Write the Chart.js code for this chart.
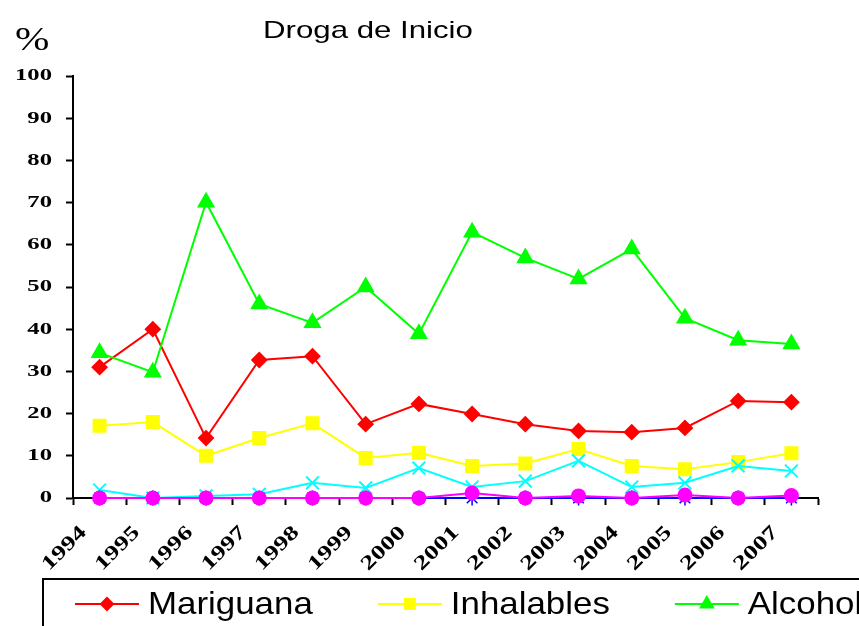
<!DOCTYPE html>
<html>
<head>
<meta charset="utf-8">
<script src="https://cdn.jsdelivr.net/npm/chart.js@4/dist/chart.umd.min.js"></script>
<style>
html,body{margin:0;padding:0;background:#fff;overflow:hidden}
#c{display:block}
</style>
</head>
<body>
<canvas id="c" width="859" height="626"></canvas>
<script>
// ---- data ----
const categories = ['1994','1995','1996','1997','1998','1999','2000','2001','2002','2003','2004','2005','2006','2007'];
const yTickValues = [0,10,20,30,40,50,60,70,80,90,100];
const mariguana  = [31, 40, 14.2, 32.7, 33.6, 17.5, 22.3, 19.9, 17.5, 15.9, 15.6, 16.6, 23, 22.7];
const inhalables = [17.1, 18.0, 10.0, 14.2, 17.7, 9.5, 10.7, 7.6, 8.2, 11.6, 7.6, 6.8, 8.5, 10.6];
const alcohol    = [34.4, 29.8, 70.1, 46, 41.5, 50, 38.9, 63, 56.9, 51.9, 59, 42.6, 37.4, 36.5];
const serie4     = [1.9, 0, 0.5, 0.9, 3.6, 2.4, 7.1, 2.6, 4.0, 8.8, 2.6, 3.6, 7.6, 6.4];
const serie5     = [0, 0, 0, 0, 0, 0, 0, 0, 0, 0, 0, 0, 0, 0];
const serie6     = [0, 0, 0, 0, 0, 0, 0, 1.2, 0, 0.5, 0, 0.7, 0, 0.6];
const legendLabels = ['Mariguana', 'Inhalables', 'Alcohol'];
const chartTitle = 'Droga de Inicio';
const yUnit = '%';

// ---- stretched text along its own direction (as in the reference picture) ----
const STRETCH = {17: 1.45, 20: 1.35, 24: 1.3, 33: 1.25, 32: 1.09};
function sxFor(font){
  const m = /(\d+(?:\.\d+)?)px/.exec(font);
  return m ? (STRETCH[Math.round(+m[1])] || 1) : 1;
}
const canvas = document.getElementById('c');
const ctx = canvas.getContext('2d');
const origFill = ctx.fillText.bind(ctx);
const origMeasure = ctx.measureText.bind(ctx);
ctx.fillText = function(t, x, y, mw){
  const sx = sxFor(ctx.font);
  if (sx === 1) { return mw === undefined ? origFill(t, x, y) : origFill(t, x, y, mw); }
  ctx.save();
  ctx.translate(x, y);
  ctx.scale(sx, 1);
  origFill(t, 0, 0);
  ctx.restore();
};
ctx.measureText = function(t){
  const r = origMeasure(t);
  const sx = sxFor(ctx.font);
  if (sx === 1) return r;
  return {
    width: r.width * sx,
    actualBoundingBoxAscent: r.actualBoundingBoxAscent,
    actualBoundingBoxDescent: r.actualBoundingBoxDescent,
    actualBoundingBoxLeft: r.actualBoundingBoxLeft * sx,
    actualBoundingBoxRight: r.actualBoundingBoxRight * sx,
    fontBoundingBoxAscent: r.fontBoundingBoxAscent,
    fontBoundingBoxDescent: r.fontBoundingBoxDescent
  };
};

// ---- decorations: title, unit label, legend ----
const decor = {
  id: 'decor',
  afterDraw(chart){
    const c = chart.ctx;
    c.save();
    c.fillStyle = '#000';
    c.textAlign = 'left';
    c.textBaseline = 'alphabetic';
    c.font = '24px "Liberation Sans", Arial, sans-serif';
    c.fillText(chartTitle, 263, 38);
    c.font = '33px "Liberation Serif", "Times New Roman", serif';
    c.fillText(yUnit, 15, 50);

    // legend box
    c.lineWidth = 2;
    c.strokeStyle = '#000';
    c.strokeRect(43, 579, 900, 120);

    c.font = '32px "Liberation Sans", Arial, sans-serif';
    c.textBaseline = 'middle';
    let x = 75;
    const yc = 604;
    legendLabels.forEach((lab, i) => {
      const ds = chart.data.datasets[i];
      c.strokeStyle = ds.borderColor;
      c.lineWidth = 2;
      c.beginPath();
      c.moveTo(x, yc);
      c.lineTo(x + 64, yc);
      c.stroke();
      c.fillStyle = ds.backgroundColor;
      c.strokeStyle = ds.borderColor;
      Chart.helpers.drawPoint(c, {pointStyle: ds.pointStyle, radius: ds.legendRadius, rotation: 0, borderWidth: 1}, x + 32, yc);
      c.fillStyle = '#000';
      c.fillText(lab, x + 73, yc + 1);
      const w = c.measureText(lab).width;
      x = x + 73 + w + 65;
    });
    c.restore();
  }
};

const yFont = {family: '"Liberation Serif", "Times New Roman", serif', size: 17, weight: 'bold'};
const xFont = {family: '"Liberation Serif", "Times New Roman", serif', size: 20, weight: 'bold'};

new Chart(ctx, {
  type: 'line',
  data: {
    labels: categories,
    datasets: [
      {label: legendLabels[0], data: mariguana, borderColor: '#FF0000', backgroundColor: '#FF0000',
       pointStyle: 'rectRot', pointRadius: 7, legendRadius: 6, borderWidth: 2, order: 6},
      {label: legendLabels[1], data: inhalables, borderColor: '#FFFF00', backgroundColor: '#FFFF00',
       pointStyle: 'rect', pointRadius: 8.5, legendRadius: 7, borderWidth: 2, order: 5},
      {label: legendLabels[2], data: alcohol, borderColor: '#00FF00', backgroundColor: '#00FF00',
       pointStyle: 'triangle', pointRadius: 8.5, legendRadius: 7, borderWidth: 2, order: 4},
      {label: 'Serie 4', data: serie4, borderColor: '#00FFFF', backgroundColor: '#00FFFF',
       pointStyle: 'crossRot', pointRadius: 9, pointBorderWidth: 2, borderWidth: 2, order: 3},
      {label: 'Serie 5', data: serie5, borderColor: '#0000FF', backgroundColor: '#0000FF',
       pointStyle: 'star', pointRadius: 7.5, pointBorderWidth: 1.5, borderWidth: 2, order: 2},
      {label: 'Serie 6', data: serie6, borderColor: '#FF00FF', backgroundColor: '#FF00FF',
       pointStyle: 'circle', pointRadius: 6.5, borderWidth: 2, order: 1}
    ]
  },
  options: {
    responsive: false,
    animation: false,
    devicePixelRatio: 1,
    layout: {padding: {top: 76, right: 41, left: 0, bottom: 0}},
    elements: {line: {tension: 0}, point: {borderWidth: 1}},
    datasets: {line: {clip: false}},
    plugins: {legend: {display: false}, title: {display: false}, tooltip: {enabled: false}},
    scales: {
      x: {
        type: 'category',
        offset: true,
        grid: {offset: true, drawOnChartArea: false, drawTicks: true, tickLength: 7, tickColor: '#000', tickWidth: 2},
        border: {display: true, color: '#000', width: 2},
        ticks: {minRotation: 45, maxRotation: 45, autoSkip: false, labelOffset: -16, padding: 16, color: '#000', font: xFont},
        afterFit: s => { s.height = 128; }
      },
      y: {
        min: 0, max: 100,
        afterBuildTicks: s => { s.ticks = yTickValues.map(v => ({value: v})); },
        grid: {drawOnChartArea: false, drawTicks: true, tickLength: 7, tickColor: '#000', tickWidth: 2},
        border: {display: true, color: '#000', width: 2},
        ticks: {padding: 14, color: '#000', font: yFont},
        afterFit: s => { s.width = 73; }
      }
    }
  },
  plugins: [decor]
});
</script>
</body>
</html>
